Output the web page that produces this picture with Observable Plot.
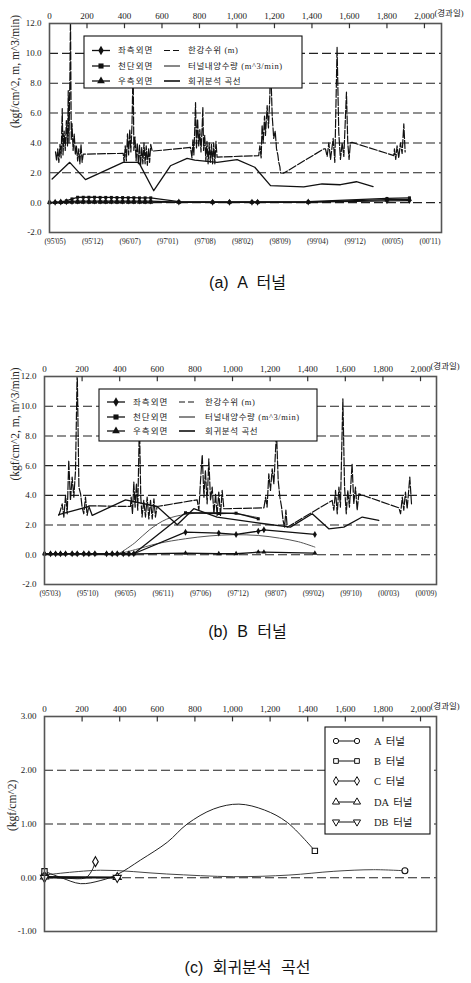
<!DOCTYPE html>
<html><head><meta charset="utf-8">
<script src="https://cdn.jsdelivr.net/npm/d3@7"></script>
<script src="https://cdn.jsdelivr.net/npm/@observablehq/plot@0.6"></script>
<style>
body{margin:0;background:#fff;}
#root{position:relative;width:471px;height:983px;overflow:hidden;background:#fff;}
.panel{position:absolute;left:0;}
.cap{position:absolute;left:12px;width:471px;text-align:center;font-family:"Liberation Sans","Noto Sans CJK KR",sans-serif;font-size:16px;line-height:20px;color:#111;word-spacing:5px;}
</style></head><body><div id="root"></div>
<script>
// ---------- shared axes ----------
const xTicks = [0,200,400,600,800,1000,1200,1400,1600,1800,2000];
const monthDays = [30,230,430,630,830,1030,1230,1430,1630,1830,2030];
const monthsA = ["(95'05)","(95'12)","(96'07)","(97'01)","(97'08)","(98'02)","(98'09)","(99'04)","(99'12)","(00'05)","(00'11)"];
const monthsB = ["(95'03)","(95'10)","(96'05)","(96'11)","(97'06)","(97'12)","(98'07)","(99'02)","(99'10)","(00'03)","(00'09)"];
const yTicksAB = [-2,0,2,4,6,8,10,12];
const gridAB = [0,2,4,6,8,10];
const yTicksC = [-1,0,1,2,3];
const gridC = [0,1,2];
const legendLeft = ["좌측외면","천단외면","우측외면"];
const legendRight = ["한강수위 (m)","터널내양수량 (m^3/min)","회귀분석 곡선"];
const legendC = ["A 터널","B 터널","C 터널","DA 터널","DB 터널"];
const yLabelAB = "(kgf/cm^2, m, m^3/min)";
const yLabelC = "(kgf/cm^2)";
const xUnit = "(경과일)";
const captions = ["(a) A 터널","(b) B 터널","(c) 회귀분석 곡선"];

// ---------- (a) A tunnel ----------
const aLevelDay = [32,38,44,50,56,62,68,72,78,84,90,96,100,104,109,112,116,120,126,132,138,144,150,156,162,168,174,180,
 393,398,404,410,416,422,428,434,440,446,450,456,462,468,474,480,486,492,498,504,510,516,522,528,534,540,548,
 752,760,765,770,775,779,784,790,796,802,808,814,818,822,828,834,840,846,852,858,864,870,876,882,888,894,
 1116,1122,1129,1134,1140,1147,1152,1161,1168,1175,1179,1188,1196,1204,1211,1218,1223,1229,1232,1250,
 1463,1472,1481,1490,1499,1513,1522,1534,1543,1552,1561,1570,1584,1591,1598,1605,1614,
 1837,1840,1847,1854,1863,1872,1881,1890,1897];
const aLevelVal = [3.4,2.8,3.6,2.7,3.9,3.0,6.3,3.2,4.8,3.5,5.5,3.8,7.5,4.0,8.6,12.5,4.2,5.3,3.5,4.6,3.2,3.8,2.8,3.6,2.6,3.9,2.7,3.25,
 3.3,2.7,3.8,2.8,4.6,3.2,4.9,3.4,5.2,9.2,3.5,4.4,2.8,4.0,2.6,3.9,2.5,3.7,2.6,4.0,2.6,3.8,2.5,3.6,2.7,3.9,3.45,
 3.7,3.0,4.2,3.2,5.0,6.7,3.6,5.6,3.8,4.9,3.4,5.0,6.4,3.5,4.5,2.8,4.1,2.6,4.0,2.7,3.9,2.6,4.0,2.6,4.1,3.05,
 3.15,3.8,3.0,5.2,4.0,5.8,4.5,6.5,5.0,7.0,9.5,5.8,4.3,4.8,3.6,3.2,2.7,2.4,2.0,1.98,
 3.6,3.6,3.1,4.0,2.9,4.3,2.7,10.4,4.7,2.9,4.0,3.1,7.4,4.0,2.9,4.0,4.04,
 3.15,3.6,2.9,3.8,3.0,4.0,3.3,5.27,3.4];
const aPumpDay = [14,108,192,393,476,556,645,734,775,894,1001,1095,1179,1356,1454,1552,1637,1726];
const aPumpVal = [1.58,2.70,1.54,2.70,2.70,0.80,2.47,2.97,2.85,2.70,2.88,2.37,1.14,1.05,1.25,1.20,1.40,1.07];
const aGaugeDay = [0,30,60,90,120,150,180,210,240,270,300,330,360,390,420,450,480,510,540,690,870,960,1080,1110,1380,1800,1920];
const aLeft  = [0.02,0.03,0.04,0.06,0.08,0.1,0.1,0.1,0.1,0.1,0.1,0.1,0.1,0.1,0.1,0.1,0.1,0.1,0.1,0.04,0.03,0.03,0.03,0.03,0.04,0.12,0.14];
const aCrown = [0.0,0.02,0.05,0.12,0.25,0.36,0.36,0.36,0.36,0.35,0.35,0.35,0.34,0.34,0.33,0.33,0.32,0.32,0.32,0.07,0.05,0.05,0.05,0.05,0.07,0.28,0.32];
const aRight = [0.0,0.0,0.01,0.02,0.03,0.03,0.03,0.03,0.03,0.03,0.03,0.03,0.03,0.03,0.03,0.03,0.03,0.03,0.03,0.02,0.02,0.02,0.02,0.02,0.03,0.2,0.22];

// ---------- (b) B tunnel ----------
const bLevelDay = [76,85,94,103,112,121,129,138,147,156,165,174,183,192,200,209,218,227,236,
 457,461,468,475,482,489,496,505,512,519,528,537,546,555,564,573,582,590,599,
 812,821,830,839,848,856,865,874,883,892,901,910,918,927,936,945,954,
 1167,1176,1184,1193,1202,1211,1220,1234,1243,1252,1261,1269,1277,1284,1291,
 1530,1539,1548,1557,1566,1574,1587,1596,1605,1613,1622,1636,1645,1654,1663,1672,
 1885,1894,1903,1911,1920,1929,1943,1952];
const bLevelVal = [2.65,3.0,3.43,2.54,4.0,2.76,6.35,3.66,5.23,3.88,5.68,12.5,4.55,4.1,3.21,2.76,3.88,2.65,3.3,
 3.25,3.88,2.76,4.9,3.2,4.8,3.0,9.0,3.9,2.54,3.66,2.54,3.88,2.42,3.66,2.42,3.77,2.54,3.25,
 3.7,3.0,5.0,6.73,3.88,5.68,3.43,6.46,3.66,4.55,2.76,4.1,2.65,4.22,2.65,4.33,3.1,
 3.16,3.88,3.21,5.45,4.33,5.79,4.78,8.3,5.0,3.88,3.21,2.31,1.86,3.0,1.86,
 3.66,3.0,4.33,2.76,4.55,3.21,10.5,4.55,2.76,4.33,3.21,6.12,3.43,4.55,3.0,4.1,
 3.16,2.76,3.88,3.0,4.22,3.1,5.23,3.43];
const bPumpDay = [76,236,254,431,599,706,794,918,1167,1308,1424,1512,1592,1690,1778];
const bPumpVal = [2.7,3.25,2.65,3.7,3.25,2.02,3.1,2.54,2.09,1.86,2.76,1.75,1.86,2.54,2.31];
const bGaugeDay = [0,32,59,85,112,147,174,209,236,268,330,360,387,419,449,475,750,927,1019,1137,1167,1438];
const bLeft  = [0.07,0.07,0.07,0.07,0.07,0.07,0.07,0.07,0.07,0.07,0.07,0.07,0.07,0.07,0.07,0.07,1.52,1.46,1.37,1.59,1.68,1.37];
const bCrown = [0.07,0.07,0.07,0.07,0.07,0.07,0.07,0.07,0.07,0.07,0.07,0.07,0.07,0.07,0.07,0.07,2.83,2.78,2.80,2.42,null,null];
const bRight = [0.06,0.06,0.06,0.06,0.06,0.06,0.06,0.06,0.06,0.06,0.06,0.06,0.06,0.06,0.06,0.06,0.11,0.07,0.07,0.18,0.18,0.11];
const bRegLeftDay = [330,420,484,600,750,880,1007,1137,1250,1350,1438];
const bRegLeftVal = [0.05,0.15,0.35,0.75,1.08,1.27,1.35,1.30,1.12,0.88,0.52];
const bRegCrownDay = [400,480,560,650,750,850,950,1050,1137];
const bRegCrownVal = [0.1,0.8,1.7,2.4,2.72,2.85,2.82,2.7,2.5];

// ---------- (c) regression curves ----------
const cADay = [0,298,650,1007,1300,1539,1750,1917];
const cAVal = [0.05,0.14,0.07,0.02,0.05,0.12,0.15,0.13];
const cBDay = [0,90,192,300,387,511,653,759,900,1034,1170,1291,1438];
const cBVal = [0.12,0.0,-0.11,-0.05,0.06,0.33,0.66,1.0,1.28,1.37,1.26,1.03,0.5];
const cCDay = [0,120,218,250,271];
const cCVal = [0.02,-0.01,0.0,0.12,0.3];
const cDADay = [0,387];
const cDAVal = [0.02,0.01];
const cDBDay = [0,387];
const cDBVal = [0.0,0.0];

// ---------- helpers ----------
const pts = (xs, ys) => xs.map((x, i) => ({x, y: ys[i]})).filter(d => d.y != null);
const ends = arr => [arr[0], arr[arr.length - 1]];
const SERIF = "'Liberation Serif','DejaVu Serif','Noto Sans CJK KR',serif";
const root = document.getElementById("root");

function panel(o) {
  const marks = [
    Plot.ruleY(o.grid, {y: d => d, stroke: "#222", strokeWidth: 1.1, strokeDasharray: "9,4"}),
    ...o.data,
    Plot.frame({stroke: "#555", strokeWidth: 1.6}),
    Plot.ruleX(xTicks.slice(1), {x: d => d, y1: o.yDomain[1], y2: o.yDomain[1] - o.tickLen, stroke: "#333", strokeWidth: 1.2}),
    Plot.axisX(xTicks, {anchor: "top", tickSize: 0, tickPadding: 5, tickFormat: d3.format(","), fontSize: 9, fill: "#222", label: null}),
    Plot.text([xUnit], {x: () => 2000, y: () => o.yDomain[1], dx: 10, dy: -10, textAnchor: "start", fontSize: 8.5, fill: "#222"}),
    Plot.axisY(o.yTicks, {anchor: "left", tickSize: 0, tickPadding: 8, tickFormat: o.yFmt, fontSize: 9, fill: "#222", label: null}),
    Plot.text([o.ylabel], {frameAnchor: "left", rotate: -90, dx: o.ldx, dy: o.ldy, fontSize: 11.5, fill: "#222"})
  ];
  if (o.months) marks.push(Plot.axisX(monthDays, {anchor: "bottom", tickSize: 0, tickPadding: 6, tickFormat: d => o.months[monthDays.indexOf(d)], fontSize: 7.5, fill: "#222", label: null}));
  const svg = Plot.plot({
    width: 471, height: o.height,
    marginTop: o.mt, marginBottom: o.mb, marginLeft: o.ml, marginRight: o.mr,
    x: {domain: o.xDomain},
    y: {domain: o.yDomain},
    style: {fontFamily: SERIF, fontSize: "9px", color: "#222", background: "white"},
    marks
  });
  const div = document.createElement("div");
  div.className = "panel";
  div.style.top = o.top + "px";
  div.appendChild(svg);
  root.appendChild(div);
  return svg;
}

function gaugeMarks(days, left, crown, right) {
  const L = pts(days, left), C = pts(days, crown), R = pts(days, right);
  return [
    Plot.line(R, {x: "x", y: "y", stroke: "#111", strokeWidth: 1.3}),
    Plot.line(L, {x: "x", y: "y", stroke: "#111", strokeWidth: 1.3}),
    Plot.line(C, {x: "x", y: "y", stroke: "#111", strokeWidth: 1.3}),
    Plot.dot(R, {x: "x", y: "y", symbol: "triangle", r: 1.9, fill: "#111"}),
    Plot.dot(L, {x: "x", y: "y", symbol: "diamond", r: 2.1, fill: "#111"}),
    Plot.dot(C, {x: "x", y: "y", symbol: "square", r: 1.7, fill: "#111"})
  ];
}

function legendAB(svg, L) {
  const g = d3.select(svg).append("g").attr("text-anchor", "start");
  g.append("rect").attr("x", L.x).attr("y", L.y).attr("width", L.w).attr("height", L.h)
    .attr("fill", "white").attr("stroke", "#111").attr("stroke-width", 1.1);
  const syms = [d3.symbolDiamond, d3.symbolSquare, d3.symbolTriangle];
  const dashes = ["6,3", null, null];
  const widths = [1.2, 1.0, 1.6];
  legendLeft.forEach((t, i) => {
    const y = L.rows[i];
    g.append("line").attr("x1", L.c1).attr("x2", L.c1 + 18).attr("y1", y).attr("y2", y).attr("stroke", "#111").attr("stroke-width", 1.3);
    g.append("path").attr("d", d3.symbol(syms[i], 26)()).attr("transform", `translate(${L.c1 + 9},${y})`).attr("fill", "#111");
    g.append("text").attr("x", L.t1).attr("y", y).attr("dy", "0.35em").attr("font-size", 8.5).attr("letter-spacing", 1).attr("fill", "#222").text(t);
  });
  legendRight.forEach((t, i) => {
    const y = L.rows[i];
    const ln = g.append("line").attr("x1", L.c2).attr("x2", L.c2 + 16).attr("y1", y).attr("y2", y).attr("stroke", "#111").attr("stroke-width", widths[i]);
    if (dashes[i]) ln.attr("stroke-dasharray", dashes[i]);
    g.append("text").attr("x", L.t2).attr("y", y).attr("dy", "0.35em").attr("font-size", 8.5).attr("letter-spacing", 0.6).attr("fill", "#222").text(t);
  });
}

// ---------- panel (a) ----------
const svgA = panel({
  top: 0, height: 255, mt: 23, mb: 23, ml: 49, mr: 30,
  xDomain: [0, 2091], yDomain: [-2, 12], tickLen: 0.35,
  yTicks: yTicksAB, grid: gridAB, yFmt: d => d.toFixed(1),
  ylabel: yLabelAB, ldx: -34, ldy: 0, months: monthsA,
  data: [
    Plot.line(pts(aPumpDay, aPumpVal), {x: "x", y: "y", stroke: "#111", strokeWidth: 1.3}),
    Plot.line(pts(aLevelDay, aLevelVal), {x: "x", y: "y", stroke: "#111", strokeWidth: 1.2, strokeDasharray: "8,2", clip: true}),
    ...gaugeMarks(aGaugeDay, aLeft, aCrown, aRight)
  ]
});
legendAB(svgA, {x: 84, y: 36, w: 218, h: 52, rows: [50.5, 66, 81], c1: 92, t1: 118, c2: 164, t2: 188});

// ---------- panel (b) ----------
const svgB = panel({
  top: 350, height: 257, mt: 26, mb: 23, ml: 44, mr: 35,
  xDomain: [0, 2085], yDomain: [-2, 12], tickLen: 0.35,
  yTicks: yTicksAB, grid: gridAB, yFmt: d => d.toFixed(1),
  ylabel: yLabelAB, ldx: -29, ldy: 0, months: monthsB,
  data: [
    Plot.line(pts(bRegLeftDay, bRegLeftVal), {x: "x", y: "y", stroke: "#555", strokeWidth: 1, curve: "catmull-rom"}),
    Plot.line(pts(bRegCrownDay, bRegCrownVal), {x: "x", y: "y", stroke: "#555", strokeWidth: 1, curve: "catmull-rom"}),
    Plot.line(pts(bPumpDay, bPumpVal), {x: "x", y: "y", stroke: "#111", strokeWidth: 1.3}),
    Plot.line(pts(bLevelDay, bLevelVal), {x: "x", y: "y", stroke: "#111", strokeWidth: 1.2, strokeDasharray: "8,2", clip: true}),
    ...gaugeMarks(bGaugeDay, bLeft, bCrown, bRight)
  ]
});
legendAB(svgB, {x: 99, y: 39, w: 218, h: 52, rows: [52, 67, 81], c1: 107, t1: 133, c2: 179, t2: 205});

// ---------- panel (c) ----------
const cSeries = [
  {d: pts(cADay, cAVal), sym: "circle", rot: 0, w: 1, s: "#444"},
  {d: pts(cBDay, cBVal), sym: "square", rot: 0, w: 1, s: "#222"},
  {d: pts(cCDay, cCVal), sym: "diamond", rot: 0, w: 1, s: "#222"},
  {d: pts(cDADay, cDAVal), sym: "triangle", rot: 0, w: 1.6, s: "#111"},
  {d: pts(cDBDay, cDBVal), sym: "triangle", rot: 180, w: 1.6, s: "#111"}
];
const cMarks = [];
cSeries.forEach(s => cMarks.push(Plot.line(s.d, {x: "x", y: "y", stroke: s.s, strokeWidth: s.w, curve: s.d.length > 2 ? "catmull-rom" : "linear"})));
cSeries.forEach(s => cMarks.push(Plot.dot(ends(s.d), {x: "x", y: "y", symbol: s.sym, rotate: s.rot, r: 3, fill: "white", stroke: "#111", strokeWidth: 1.1})));
const svgC = panel({
  top: 690, height: 251, mt: 26, mb: 10, ml: 44, mr: 35,
  xDomain: [0, 2085], yDomain: [-1, 3], tickLen: 0.1,
  yTicks: yTicksC, grid: gridC, yFmt: d => d.toFixed(2),
  ylabel: yLabelC, ldx: -32, ldy: 7, months: null,
  data: cMarks
});
(function legendC_() {
  const g = d3.select(svgC).append("g").attr("text-anchor", "start");
  g.append("rect").attr("x", 325).attr("y", 37).attr("width", 105).attr("height", 107)
    .attr("fill", "white").attr("stroke", "#111").attr("stroke-width", 1.1);
  const syms = [d3.symbolCircle, d3.symbolSquare, d3.symbolDiamond, d3.symbolTriangle, d3.symbolTriangle];
  const rots = [0, 0, 0, 0, 180];
  const rows = [51, 71, 91, 112, 132];
  legendC.forEach((t, i) => {
    const y = rows[i];
    g.append("line").attr("x1", 336).attr("x2", 357).attr("y1", y).attr("y2", y).attr("stroke", "#111").attr("stroke-width", 1);
    [336, 357].forEach(x => g.append("path").attr("d", d3.symbol(syms[i], 22)())
      .attr("transform", `translate(${x},${y}) rotate(${rots[i]})`).attr("fill", "white").attr("stroke", "#111").attr("stroke-width", 1));
    g.append("text").attr("x", 374).attr("y", y).attr("dy", "0.35em").attr("font-size", 10.5).attr("fill", "#222").attr("word-spacing", 2).text(t);
  });
})();

// ---------- captions ----------
[283, 632, 968].forEach((cy, i) => {
  const c = document.createElement("div");
  c.className = "cap";
  c.style.top = (cy - 10) + "px";
  c.textContent = captions[i];
  root.appendChild(c);
});
</script></body></html>
